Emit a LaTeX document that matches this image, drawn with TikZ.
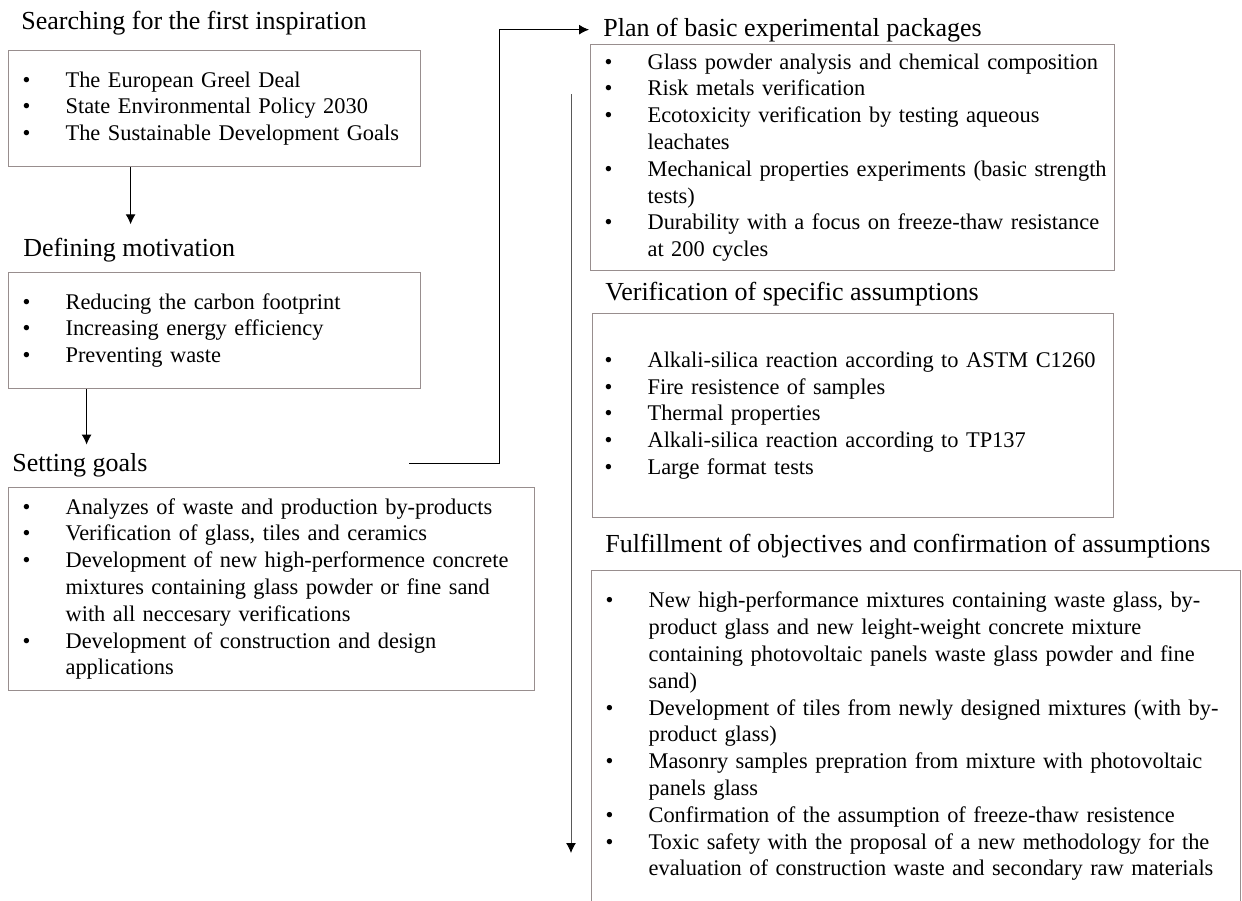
\documentclass[tikz,border=0pt]{standalone}
\usepackage{fontspec}
\setmainfont{Liberation Serif}
\usetikzlibrary{arrows.meta}
\definecolor{boxgray}{RGB}{152,142,142}
\newcommand{\blist}[1]{\noindent\begin{tabular}{@{}p{21.5pt}@{}l@{}}#1\end{tabular}}

\begin{document}
\begin{tikzpicture}[x=0.5pt, y=-0.5pt,
  headtext/.style={anchor=base west, inner sep=0pt, font={\fontsize{13}{15}\selectfont}},
  listbox/.style={draw=boxgray, line width=0.6pt, anchor=north west, inner xsep=7pt,
    inner ysep=0pt, align=left, font={\fontsize{11.2}{13.4}\selectfont}},
  arr/.style={-{Latex[length=5pt,width=5pt,color=black]}, line width=0.5pt}]

\useasboundingbox (0,0) rectangle (1242,900);
\clip (0,0) rectangle (1242,900);

\node [headtext] (t-insp) at (21,29) {Searching for the first inspiration};

\node [listbox, text width=192pt, minimum height=58pt] (insp) at (8,50) {\blist{
\textbullet & The European Greel Deal\\
\textbullet & State Environmental Policy 2030\\
\textbullet & The Sustainable Development Goals}};

\node [headtext] (t-motiv) at (23,256) {Defining motivation};

\node [listbox, text width=192pt, minimum height=58pt] (motiv) at (8,272) {\blist{
\textbullet & Reducing the carbon footprint\\
\textbullet & Increasing energy efficiency\\
\textbullet & Preventing waste}};

\node [headtext] (t-goals) at (12,471) {Setting goals};

\node [listbox, text width=249pt, minimum height=101.5pt] (goals) at (8,487) {\blist{
\textbullet & Analyzes of waste and production by-products\\
\textbullet & Verification of glass, tiles and ceramics\\
\textbullet & Development of new high-performence concrete\\
 & mixtures containing glass powder or fine sand\\
 & with all neccesary verifications\\
\textbullet & Development of construction and design\\
 & applications}};

\node [headtext] (t-plan) at (603,36) {Plan of basic experimental packages};

\node [listbox, text width=248pt, minimum height=113pt] (plan) at (590,44) {\blist{
\textbullet & Glass powder analysis and chemical composition\\
\textbullet & Risk metals verification\\
\textbullet & Ecotoxicity verification by testing aqueous\\
 & leachates\\
\textbullet & Mechanical properties experiments (basic strength\\
 & tests)\\
\textbullet & Durability with a focus on freeze-thaw resistance\\
 & at 200 cycles}};

\node [headtext] (t-verif) at (605,300) {Verification of specific assumptions};

\node [listbox, text width=248.5pt, minimum height=102pt, inner xsep=6pt] (verif) at (592,313) {\blist{
\textbullet & Alkali-silica reaction according to ASTM C1260\\
\textbullet & Fire resistence of samples\\
\textbullet & Thermal properties\\
\textbullet & Alkali-silica reaction according to TP137\\
\textbullet & Large format tests}};

\node [headtext] (t-fulfil) at (605,552) {Fulfillment of objectives and confirmation of assumptions};

\node [listbox, text width=310.5pt, minimum height=166pt] (fulfil) at (591,570) {\blist{
\textbullet & New high-performance mixtures containing waste glass, by-\\
 & product glass and new leight-weight concrete mixture\\
 & containing photovoltaic panels waste glass powder and fine\\
 & sand)\\
\textbullet & Development of tiles from newly designed mixtures (with by-\\
 & product glass)\\
\textbullet & Masonry samples prepration from mixture with photovoltaic\\
 & panels glass\\
\textbullet & Confirmation of the assumption of freeze-thaw resistence\\
\textbullet & Toxic safety with the proposal of a new methodology for the\\
 & evaluation of construction waste and secondary raw materials}};

\coordinate (a-insp) at ([xshift=-42pt]insp.south);
\coordinate (a-motiv) at ([xshift=-64pt]motiv.south);
\coordinate (goalsout) at (409,463);
\coordinate (runtop) at (571,94);
\coordinate (runend) at (571,853);

\draw [arr, shorten >=6.5pt] (a-insp) -- (a-insp |- t-motiv.north);
\draw [arr, shorten >=4pt] (a-motiv) -- (a-motiv |- t-goals.north);
\draw [arr, shorten >=7pt] (goalsout) -- ++(90,0) |- (t-plan.west);
\draw [arr, draw=black!65] (runtop) -- (runend);

\end{tikzpicture}
\end{document}
